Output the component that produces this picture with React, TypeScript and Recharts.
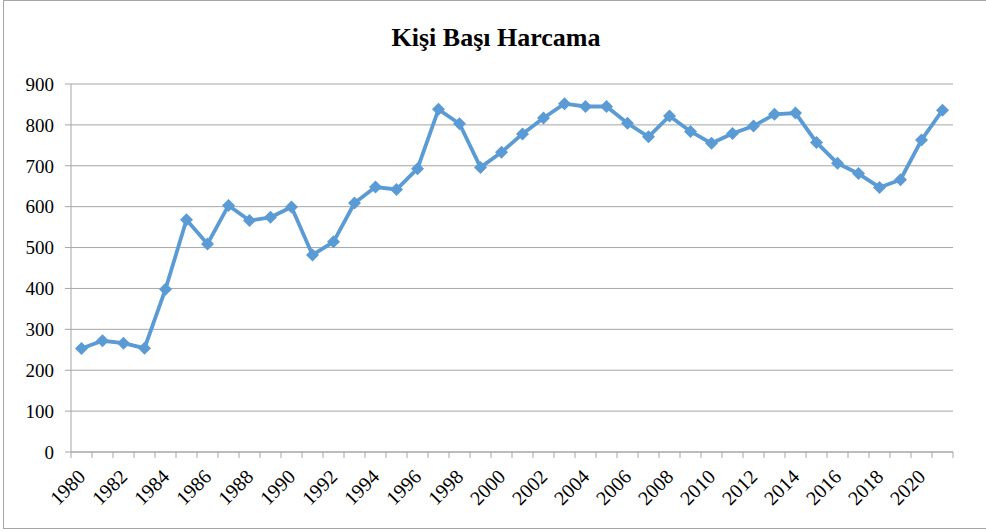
import { LineChart, Line, XAxis, YAxis, CartesianGrid } from 'recharts';

const years = [
  1980, 1981, 1982, 1983, 1984, 1985, 1986, 1987, 1988, 1989,
  1990, 1991, 1992, 1993, 1994, 1995, 1996, 1997, 1998, 1999,
  2000, 2001, 2002, 2003, 2004, 2005, 2006, 2007, 2008, 2009,
  2010, 2011, 2012, 2013, 2014, 2015, 2016, 2017, 2018, 2019,
  2020, 2021,
];

const spending = [
  253, 272, 266, 254, 398, 568, 509, 603, 566, 574,
  599, 482, 514, 609, 648, 642, 693, 838, 803, 696,
  733, 778, 817, 852, 845, 845, 804, 771, 822, 784,
  755, 779, 797, 826, 829, 757, 706, 681, 647, 666,
  763, 836,
];

const yearLabels = [
  1980, 1982, 1984, 1986, 1988, 1990, 1992, 1994, 1996, 1998, 2000,
  2002, 2004, 2006, 2008, 2010, 2012, 2014, 2016, 2018, 2020,
];

const yTicks = [0, 100, 200, 300, 400, 500, 600, 700, 800, 900];

const data = years.map((year, i) => ({ year, value: spending[i] }));
// category boundaries, where Excel puts the tick marks
const boundaries = [...years.map((y) => y - 0.5), years[years.length - 1] + 0.5];
const xDomain = [boundaries[0], boundaries[boundaries.length - 1]];

const FONT = '"Liberation Serif", "Times New Roman", serif';
const GRAY = '#a6a6a6';
const BLUE = '#5b9bd5';

const Diamond = (props: any) => {
  const { cx, cy } = props;
  if (cx == null || cy == null) return null;
  const r = 6.5;
  return (
    <path
      d={`M${cx},${cy - r}L${cx + r},${cy}L${cx},${cy + r}L${cx - r},${cy}Z`}
      fill={BLUE}
      stroke="none"
    />
  );
};

const App = () => {
  return (
    <div style={{ position: 'absolute', left: 0, top: 0, width: 986, height: 532, background: '#fff' }}>
      <div
        style={{
          position: 'absolute',
          left: 3,
          top: 0,
          width: 983,
          height: 529,
          border: `1px solid ${GRAY}`,
          borderRight: 'none',
          boxSizing: 'border-box',
        }}
      />
      <div
        style={{
          position: 'absolute',
          left: 0,
          top: 23,
          width: 992,
          textAlign: 'center',
          fontFamily: FONT,
          fontWeight: 'bold',
          fontSize: 26,
          lineHeight: '30px',
        }}
      >
        Kişi Başı Harcama
      </div>
      <div style={{ position: 'absolute', left: 0, top: 0 }}>
        <LineChart
          width={986}
          height={532}
          data={data}
          margin={{ top: 84, right: 33, bottom: 4, left: 0 }}
          style={{ fontFamily: FONT }}
        >
          <CartesianGrid horizontal vertical={false} stroke={GRAY} strokeWidth={1} />
          <YAxis
            type="number"
            domain={[0, 900]}
            ticks={yTicks}
            interval={0}
            width={71}
            tickSize={6}
            tickMargin={11}
            stroke={GRAY}
            tick={{ fill: '#000', fontSize: 19, fontFamily: FONT }}
          />
          <XAxis
            xAxisId="bound"
            type="number"
            dataKey="year"
            domain={xDomain}
            ticks={boundaries}
            interval={0}
            allowDataOverflow
            height={6}
            tickSize={6}
            stroke={GRAY}
            tick={() => <g />}
          />
          <XAxis
            xAxisId="label"
            type="number"
            dataKey="year"
            domain={xDomain}
            ticks={yearLabels}
            interval={0}
            allowDataOverflow
            height={70}
            tickSize={0}
            tickMargin={0}
            axisLine={false}
            tickLine={false}
            angle={-45}
            textAnchor="end"
            tick={{ fill: '#000', fontSize: 20, fontFamily: FONT, dx: -5, dy: 10 }}
          />
          <Line
            xAxisId="bound"
            type="linear"
            dataKey="value"
            stroke={BLUE}
            strokeWidth={3.8}
            dot={<Diamond />}
            activeDot={false}
            isAnimationActive={false}
          />
        </LineChart>
      </div>
    </div>
  );
};

export default App;
